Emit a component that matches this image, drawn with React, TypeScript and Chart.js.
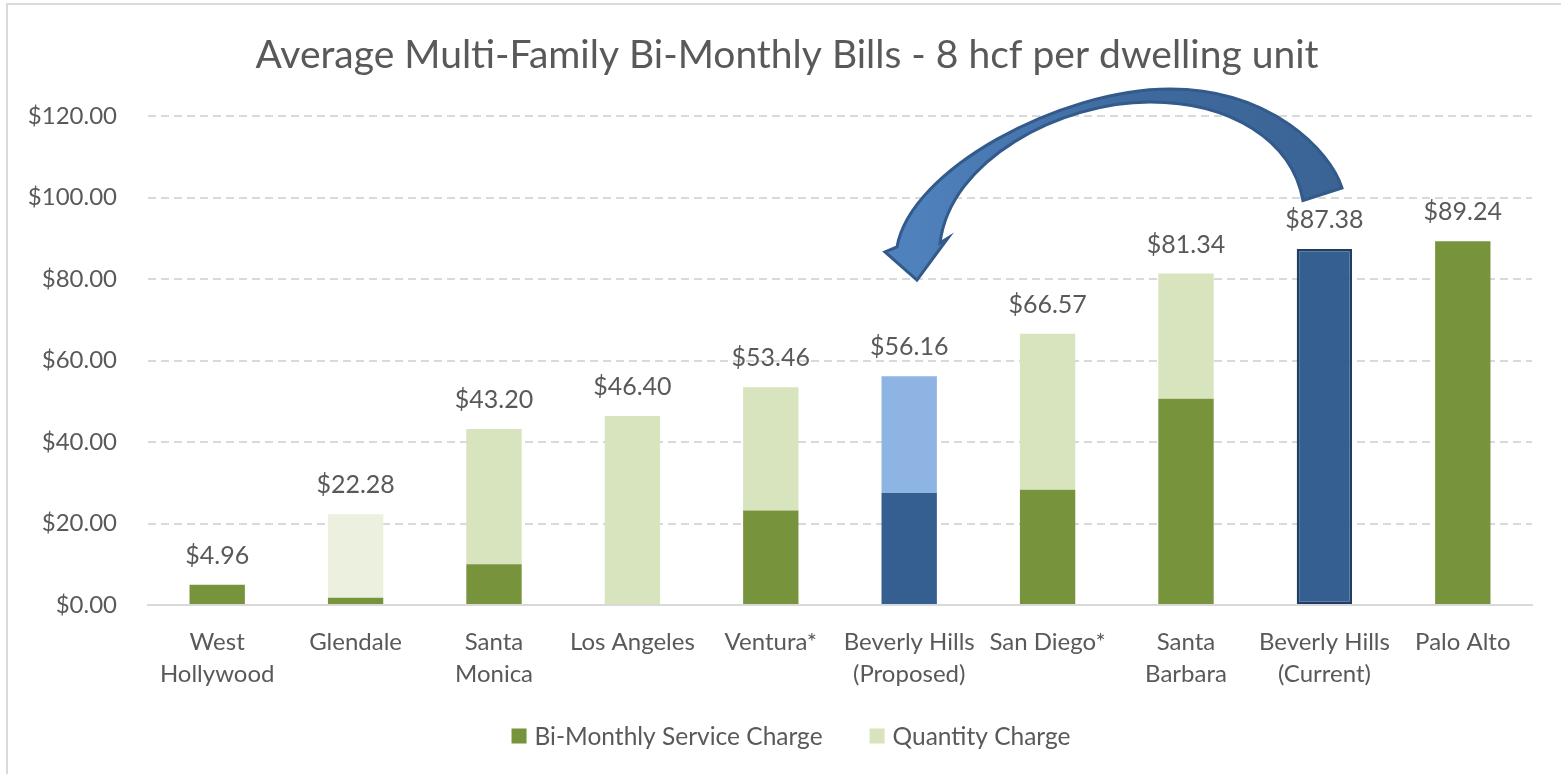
import React, { useEffect, useRef } from "react";
import { Chart, registerables } from "chart.js";

Chart.register(...registerables);

const TITLE = "Average Multi-Family Bi-Monthly Bills - 8 hcf per dwelling unit";
const CATEGORIES: string[][] = [
  ["West", "Hollywood"],
  ["Glendale"],
  ["Santa", "Monica"],
  ["Los Angeles"],
  ["Ventura*"],
  ["Beverly Hills", "(Proposed)"],
  ["San Diego*"],
  ["Santa", "Barbara"],
  ["Beverly Hills", "(Current)"],
  ["Palo Alto"],
];
const SERIES_NAMES = ["Bi-Monthly Service Charge", "Quantity Charge"];
const SERVICE = [4.96, 1.8, 10.0, 0, 23.2, 27.5, 28.3, 50.6, 87.38, 89.24];
const QUANTITY = [0, 20.48, 33.2, 46.4, 30.26, 28.66, 38.27, 30.74, 0, 0];
const SERVICE_COLORS = [
  "#77933C", "#77933C", "#77933C", "#77933C", "#77933C",
  "#355F91", "#77933C", "#77933C", "#355F91", "#77933C",
];
const QUANTITY_COLORS = [
  "#D7E4BD", "#EBF1DE", "#D7E4BD", "#D7E4BD", "#D7E4BD",
  "#8EB4E3", "#D7E4BD", "#D7E4BD", "#D7E4BD", "#D7E4BD",
];
const SERVICE_BORDER_WIDTH = [0, 0, 0, 0, 0, 0, 0, 0, 2.5, 0];
const LEGEND_COLORS = ["#77933C", "#D7E4BD"];
const Y_MIN = 0;
const Y_MAX = 120;
const Y_STEP = 20;

// curved annotation arrow, in data units (category index, dollar value)
const ARROW_OUTER: number[][] = [
  [8.127, 102.33], [8.04, 111.66], [7.607, 126.63], [6.884, 126.63],
  [6.09, 126.63], [5.006, 106.75], [4.912, 87.85],
];
const ARROW_HEAD: number[][] = [
  [4.825, 86.63], [5.056, 79.75], [5.28, 90.06], [5.223, 88.83],
];
const ARROW_INNER: number[][] = [
  [5.295, 109.2], [6.09, 123.44], [6.74, 123.44],
  [7.318, 123.44], [7.766, 114.11], [7.845, 99.26],
];

const FONT = "Lato, 'Open Sans', sans-serif";
const TEXT_COLOR = "#595959";

export default function App() {
  const ref = useRef<HTMLCanvasElement | null>(null);

  useEffect(() => {
    document.body.style.margin = "0";
    document.body.style.overflow = "hidden";
    const canvas = ref.current;
    if (!canvas) return;

    const decorations = {
      id: "decorations",
      afterDatasetsDraw(chart: any) {
        const { ctx } = chart;
        const xs = chart.scales.x;
        const ys = chart.scales.y;
        ctx.save();
        ctx.fillStyle = TEXT_COLOR;
        ctx.font = `25px ${FONT}`;
        ctx.textAlign = "center";
        ctx.textBaseline = "alphabetic";
        for (let i = 0; i < CATEGORIES.length; i++) {
          const total = SERVICE[i] + QUANTITY[i];
          const x = xs.getPixelForValue(i);
          const y = ys.getPixelForValue(total);
          ctx.fillText("$" + total.toFixed(2), x, y - 21);
        }
        ctx.restore();
      },
      afterDraw(chart: any) {
        const { ctx } = chart;
        const xs = chart.scales.x;
        const ys = chart.scales.y;
        const P = (p: number[]) => [xs.getPixelForValue(p[0]), ys.getPixelForValue(p[1])];

        // title
        ctx.save();
        ctx.fillStyle = TEXT_COLOR;
        ctx.font = `39px ${FONT}`;
        ctx.textAlign = "center";
        ctx.textBaseline = "alphabetic";
        ctx.fillText(TITLE, 787, 68);
        ctx.restore();

        // legend
        ctx.save();
        ctx.font = `24.5px ${FONT}`;
        ctx.textBaseline = "middle";
        const box = 15;
        const gapBox = 8;
        const gapItem = 47;
        const widths = SERIES_NAMES.map((n) => box + gapBox + ctx.measureText(n).width);
        const total = widths.reduce((a, b) => a + b, 0) + gapItem;
        let lx = 791 - total / 2;
        const ly = 736;
        SERIES_NAMES.forEach((n, i) => {
          ctx.fillStyle = LEGEND_COLORS[i];
          ctx.fillRect(lx, ly - box / 2, box, box);
          ctx.fillStyle = TEXT_COLOR;
          ctx.textAlign = "left";
          ctx.fillText(n, lx + box + gapBox, ly + 1);
          lx += widths[i] + gapItem;
        });
        ctx.restore();

        // arrow
        const o = ARROW_OUTER.map(P);
        const h = ARROW_HEAD.map(P);
        const inn = ARROW_INNER.map(P);
        ctx.save();
        ctx.beginPath();
        ctx.moveTo(o[0][0], o[0][1]);
        ctx.bezierCurveTo(o[1][0], o[1][1], o[2][0], o[2][1], o[3][0], o[3][1]);
        ctx.bezierCurveTo(o[4][0], o[4][1], o[5][0], o[5][1], o[6][0], o[6][1]);
        h.forEach((p) => ctx.lineTo(p[0], p[1]));
        ctx.bezierCurveTo(inn[0][0], inn[0][1], inn[1][0], inn[1][1], inn[2][0], inn[2][1]);
        ctx.bezierCurveTo(inn[3][0], inn[3][1], inn[4][0], inn[4][1], inn[5][0], inn[5][1]);
        ctx.closePath();
        const g = ctx.createLinearGradient(o[0][0], 0, h[1][0], 0);
        g.addColorStop(0, "#3B6495");
        g.addColorStop(0.5, "#3F6A9E");
        g.addColorStop(1, "#4F81BD");
        ctx.fillStyle = g;
        ctx.fill();
        ctx.lineWidth = 3;
        ctx.lineJoin = "miter";
        ctx.strokeStyle = "#325A8A";
        ctx.stroke();
        ctx.restore();
      },
    };

    const chart = new Chart(canvas, {
      type: "bar",
      data: {
        labels: CATEGORIES,
        datasets: [
          {
            label: SERIES_NAMES[0],
            data: SERVICE,
            backgroundColor: SERVICE_COLORS,
            borderColor: "#203E62",
            borderWidth: SERVICE_BORDER_WIDTH,
            borderSkipped: false,
            categoryPercentage: 0.8,
            barPercentage: 0.5,
          },
          {
            label: SERIES_NAMES[1],
            data: QUANTITY,
            backgroundColor: QUANTITY_COLORS,
            borderWidth: 0,
            categoryPercentage: 0.8,
            barPercentage: 0.5,
          },
        ],
      },
      options: {
        animation: false,
        responsive: false,
        maintainAspectRatio: false,
        events: [],
        layout: { padding: { left: 0, right: 29, top: 116, bottom: 69 } },
        plugins: {
          legend: { display: false },
          title: { display: false },
          tooltip: { enabled: false },
        },
        scales: {
          x: {
            stacked: true,
            grid: { display: false, drawTicks: false },
            border: { display: true, color: "#D9D9D9", width: 2 },
            ticks: {
              color: TEXT_COLOR,
              font: { family: FONT, size: 24, lineHeight: 1.33 },
              padding: 21,
              maxRotation: 0,
              autoSkip: false,
            },
            afterFit(scale: any) {
              scale.height = 100;
            },
          },
          y: {
            stacked: true,
            min: Y_MIN,
            max: Y_MAX,
            grid: { color: "#D9D9D9", lineWidth: 2, drawTicks: false },
            border: { display: false, dash: [8, 5] },
            ticks: {
              stepSize: Y_STEP,
              color: TEXT_COLOR,
              font: { family: FONT, size: 24 },
              padding: 31,
              callback: (v: any) => "$" + Number(v).toFixed(2),
            },
            afterFit(scale: any) {
              scale.width = 148;
            },
          },
        },
      },
      plugins: [decorations],
    } as any);

    return () => chart.destroy();
  }, []);

  return (
    <div style={{ position: "absolute", left: 0, top: 0, width: 1561, height: 774, overflow: "hidden", background: "#ffffff" }}>
      <div style={{ position: "absolute", left: 6, top: 3, width: 1600, height: 800, border: "2px solid #D9D9D9", boxSizing: "border-box" }} />
      <canvas ref={ref} width={1561} height={774} style={{ position: "absolute", left: 0, top: 0, width: 1561, height: 774 }} />
    </div>
  );
}
